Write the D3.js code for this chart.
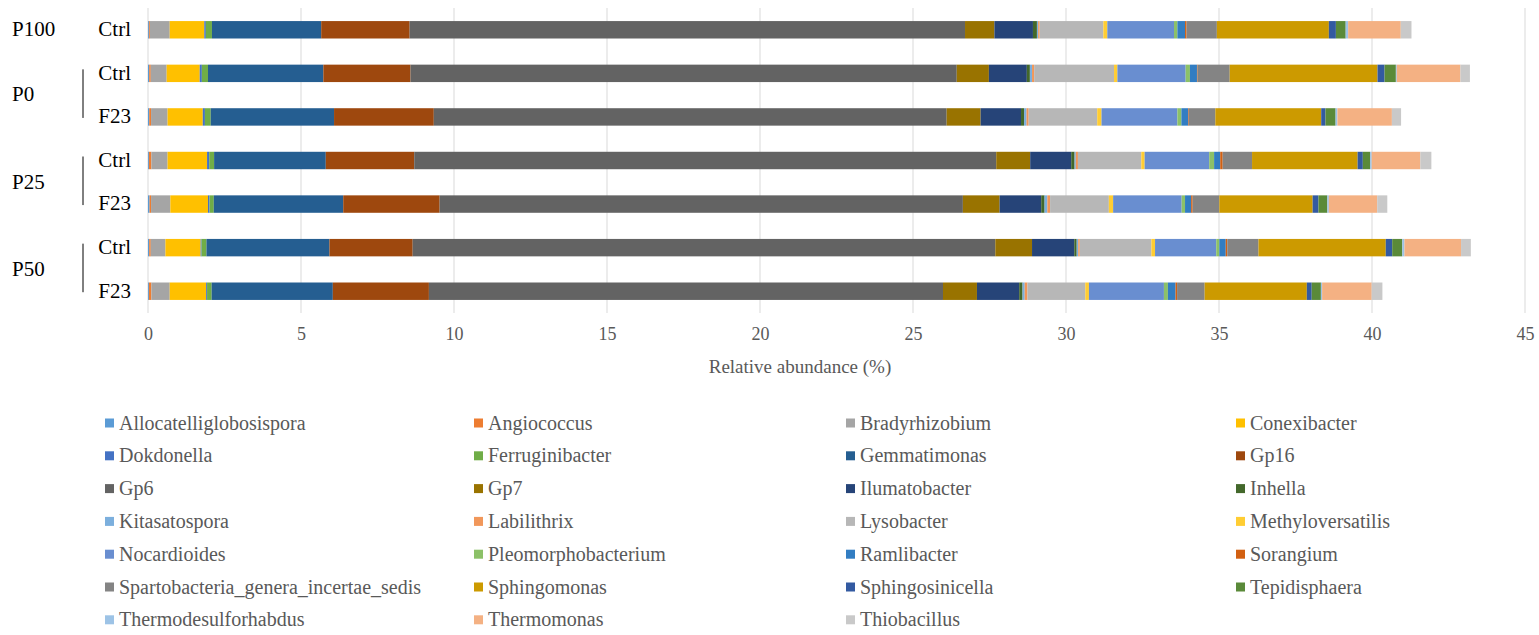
<!DOCTYPE html>
<html>
<head>
<meta charset="utf-8">
<script src="https://cdn.jsdelivr.net/npm/d3@7"></script>
<style>
  body { margin: 0; background: #fff; }
  svg { font-family: "Liberation Serif", "Times New Roman", serif; }
</style>
</head>
<body>
<div id="chart"></div>
<script>
// genera, in stacking / legend order
const genera = [
  'Allocatelliglobosispora', 'Angiococcus', 'Bradyrhizobium', 'Conexibacter',
  'Dokdonella', 'Ferruginibacter', 'Gemmatimonas', 'Gp16',
  'Gp6', 'Gp7', 'Ilumatobacter', 'Inhella',
  'Kitasatospora', 'Labilithrix', 'Lysobacter', 'Methyloversatilis',
  'Nocardioides', 'Pleomorphobacterium', 'Ramlibacter', 'Sorangium',
  'Spartobacteria_genera_incertae_sedis', 'Sphingomonas', 'Sphingosinicella', 'Tepidisphaera',
  'Thermodesulforhabdus', 'Thermomonas', 'Thiobacillus'
];

const colors = [
  '#5B9BD5', '#ED7D31', '#A5A5A5', '#FFC000',
  '#4472C4', '#70AD47', '#255E91', '#9E480E',
  '#636363', '#997300', '#264478', '#43682B',
  '#7CAFDD', '#F1975A', '#B7B7B7', '#FFCD33',
  '#698ED0', '#8CC168', '#327DC2', '#D26012',
  '#848484', '#CC9A00', '#335AA1', '#5A8A39',
  '#9DC3E6', '#F4B183', '#C9C9C9'
];

// samples top to bottom
const samples = ['P100 Ctrl', 'P0 Ctrl', 'P0 F23', 'P25 Ctrl', 'P25 F23', 'P50 Ctrl', 'P50 F23'];
const sampleLabels = ['Ctrl', 'Ctrl', 'F23', 'Ctrl', 'F23', 'Ctrl', 'F23'];
const groups = ['P100', 'P0', 'P25', 'P50'];
const groupRows = [['P100 Ctrl'], ['P0 Ctrl', 'P0 F23'], ['P25 Ctrl', 'P25 F23'], ['P50 Ctrl', 'P50 F23']];

// relative abundance (%) per sample, same order as genera
const p100Ctrl = [0.03, 0.03, 0.65, 1.13, 0.05, 0.20, 3.57, 2.89, 18.15, 0.96, 1.26, 0.13, 0.04, 0.05, 2.08, 0.13, 2.18, 0.11, 0.25, 0.05, 0.99, 3.66, 0.23, 0.32, 0.08, 1.72, 0.35];
const p0Ctrl   = [0.04, 0.05, 0.52, 1.08, 0.07, 0.20, 3.77, 2.85, 17.85, 1.05, 1.24, 0.10, 0.07, 0.07, 2.61, 0.11, 2.23, 0.14, 0.23, 0.02, 1.05, 4.83, 0.23, 0.37, 0.03, 2.08, 0.31];
const p0F23    = [0.04, 0.06, 0.54, 1.15, 0.07, 0.19, 4.03, 3.26, 16.76, 1.11, 1.32, 0.10, 0.08, 0.07, 2.24, 0.14, 2.48, 0.13, 0.23, 0.02, 0.86, 3.46, 0.14, 0.33, 0.06, 1.78, 0.30];
const p25Ctrl  = [0.03, 0.08, 0.53, 1.29, 0.07, 0.16, 3.65, 2.89, 19.02, 1.11, 1.34, 0.11, 0.04, 0.07, 2.07, 0.11, 2.11, 0.16, 0.20, 0.08, 0.96, 3.45, 0.17, 0.24, 0.05, 1.59, 0.36];
const p25F23   = [0.05, 0.05, 0.63, 1.23, 0.05, 0.14, 4.23, 3.15, 17.10, 1.20, 1.36, 0.11, 0.09, 0.09, 1.92, 0.14, 2.24, 0.11, 0.20, 0.05, 0.87, 3.05, 0.19, 0.29, 0.05, 1.58, 0.33];
const p50Ctrl  = [0.04, 0.05, 0.48, 1.15, 0.03, 0.16, 4.02, 2.72, 19.04, 1.20, 1.38, 0.08, 0.05, 0.05, 2.34, 0.12, 2.00, 0.10, 0.21, 0.05, 1.02, 4.16, 0.21, 0.33, 0.07, 1.85, 0.32];
const p50F23   = [0.03, 0.08, 0.60, 1.19, 0.03, 0.15, 3.96, 3.14, 16.80, 1.11, 1.38, 0.11, 0.07, 0.09, 1.89, 0.12, 2.45, 0.13, 0.25, 0.05, 0.90, 3.34, 0.16, 0.30, 0.04, 1.62, 0.35];

const xTicks = [0, 5, 10, 15, 20, 25, 30, 35, 40, 45];

const sampleValues = [p100Ctrl, p0Ctrl, p0F23, p25Ctrl, p25F23, p50Ctrl, p50F23];

// build rows for d3.stack
const rows = samples.map((s, i) => {
    const row = { sample: s };
    genera.forEach((g, j) => { row[g] = sampleValues[i][j]; });
    return row;
});

const width = 1539;
const height = 635;
const plot = { left: 148, right: 1525, top: 8, bottom: 313 };

const svg = d3.select('#chart')
    .append('svg')
    .attr('width', width)
    .attr('height', height);

const x = d3.scaleLinear()
    .domain([0, 45])
    .range([plot.left, plot.right]);

const y = d3.scaleBand()
    .domain(samples)
    .range([plot.top, plot.bottom])
    .paddingInner(0.6)
    .paddingOuter(0.3);

const color = d3.scaleOrdinal().domain(genera).range(colors);

// gridlines
svg.append('g')
    .selectAll('line')
    .data(xTicks)
    .join('line')
    .attr('x1', d => x(d))
    .attr('x2', d => x(d))
    .attr('y1', plot.top)
    .attr('y2', plot.bottom)
    .attr('stroke', '#D9D9D9')
    .attr('stroke-width', 1);

// x axis labels
const xAxis = svg.append('g')
    .attr('transform', `translate(0,${plot.bottom})`)
    .call(d3.axisBottom(x).tickValues(xTicks).tickSize(0).tickPadding(14));
xAxis.select('.domain').remove();
xAxis.selectAll('text')
    .attr('font-family', '"Liberation Serif", serif')
    .attr('font-size', 18)
    .attr('fill', '#595959');

svg.append('text')
    .attr('x', 800)
    .attr('y', 373)
    .attr('text-anchor', 'middle')
    .attr('font-size', 19)
    .attr('fill', '#595959')
    .text('Relative abundance (%)');

// stacked bars
const series = d3.stack().keys(genera)(rows);

svg.append('g')
    .selectAll('g')
    .data(series)
    .join('g')
    .attr('fill', d => color(d.key))
    .selectAll('rect')
    .data(d => d)
    .join('rect')
    .attr('x', d => x(d[0]))
    .attr('width', d => Math.max(0, x(d[1]) - x(d[0])))
    .attr('y', d => y(d.data.sample))
    .attr('height', y.bandwidth());

// sample labels
svg.append('g')
    .selectAll('text')
    .data(samples)
    .join('text')
    .attr('x', 131)
    .attr('y', d => y(d) + y.bandwidth() / 2)
    .attr('dy', '0.3em')
    .attr('text-anchor', 'end')
    .attr('font-size', 21)
    .attr('fill', '#000')
    .text((d, i) => sampleLabels[i]);

// group labels and brackets
groups.forEach((g, i) => {
    const r = groupRows[i];
    const top = y(r[0]) + y.bandwidth() / 2;
    const bottom = y(r[r.length - 1]) + y.bandwidth() / 2;
    svg.append('text')
        .attr('x', 12)
        .attr('y', (top + bottom) / 2)
        .attr('dy', '0.3em')
        .attr('font-size', 21)
        .attr('fill', '#000')
        .text(g);
    if (r.length > 1) {
        svg.append('line')
            .attr('x1', 83).attr('x2', 83)
            .attr('y1', top - 4)
            .attr('y2', bottom + 1)
            .attr('stroke', '#000')
            .attr('stroke-width', 1);
    }
});

// legend, 4 columns
const colX = [105, 474, 846, 1236];
const legend = svg.append('g')
    .selectAll('g')
    .data(genera)
    .join('g')
    .attr('transform', (d, i) => `translate(${colX[i % 4]},${423 + Math.floor(i / 4) * 32.8})`);

legend.append('rect')
    .attr('x', 0)
    .attr('y', -4.5)
    .attr('width', 9)
    .attr('height', 9)
    .attr('fill', d => color(d));

legend.append('text')
    .attr('x', 14)
    .attr('dy', '0.33em')
    .attr('font-size', 20)
    .attr('fill', '#595959')
    .text(d => d);
</script>
</body>
</html>
